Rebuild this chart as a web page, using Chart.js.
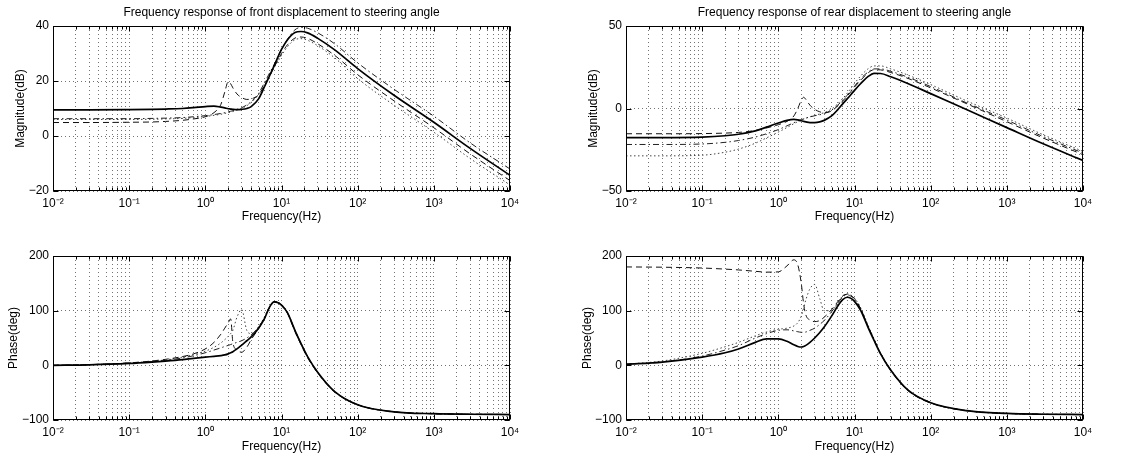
<!DOCTYPE html>
<html>
<head>
<meta charset="utf-8">
<script src="https://cdn.jsdelivr.net/npm/chart.js@4.4.1/dist/chart.umd.min.js"></script>
<style>
  body { margin: 0; background: #fff; width: 1142px; height: 462px; position: relative; overflow: hidden; }
  canvas { position: absolute; }
</style>
</head>
<body>
<canvas id="magFront"></canvas>
<canvas id="magRear"></canvas>
<canvas id="phaseFront"></canvas>
<canvas id="phaseRear"></canvas>
<script>
// --- Data ---
const FREQ = [0.01, 0.03, 0.1, 0.2, 0.3, 0.5, 0.7, 1, 1.3, 1.6, 1.8, 2, 2.15, 2.3, 2.6, 3, 3.5, 4, 5, 6, 7, 8, 9, 10, 12, 15, 18, 22, 30, 50, 100, 300, 1000, 3000, 10000];

const X_DECADES = [0.01, 0.1, 1, 10, 100, 1000, 10000];
const X_TICK_LABELS = ['10⁻²', '10⁻¹', '10⁰', '10¹', '10²', '10³', '10⁴'];
const Y_TICKS_MAG_FRONT = [-20, 0, 20, 40];
const Y_TICKS_MAG_REAR = [-50, 0, 50];
const Y_TICKS_PHASE = [-100, 0, 100, 200];

// front magnitude (dB)
const MAG_FRONT_SOLID = [9.5, 9.5, 9.6, 9.7, 9.8, 10.0, 10.3, 10.7, 10.9, 10.5, 10.2, 9.9, 9.8, 9.7, 9.6, 9.7, 10.0, 10.7, 13.5, 18.0, 22.0, 25.5, 28.8, 31.5, 35.0, 37.6, 38.0, 37.5, 35.5, 31.3, 24.5, 14.8, 5.0, -4.5, -14.3];
const MAG_FRONT_DASH = [4.9, 4.9, 5.0, 5.1, 5.3, 5.7, 6.2, 7.0, 8.5, 11.5, 16.0, 19.8, 19.0, 17.5, 15.3, 14.0, 13.3, 13.5, 15.0, 18.5, 22.0, 25.0, 27.7, 30.0, 33.2, 35.6, 36.0, 35.5, 33.5, 29.3, 22.3, 12.8, 3.0, -6.5, -16.2];
const MAG_FRONT_DASHDOT = [6.3, 6.3, 6.3, 6.4, 6.5, 6.7, 7.0, 7.4, 7.8, 8.2, 8.5, 8.8, 9.0, 9.2, 9.7, 10.3, 11.3, 12.5, 15.5, 19.5, 23.0, 26.0, 29.0, 31.5, 35.2, 38.6, 39.5, 39.2, 37.5, 33.5, 26.6, 17.0, 7.2, -2.5, -12.0];
const MAG_FRONT_DOT = [6.0, 6.0, 6.0, 6.1, 6.2, 6.4, 6.7, 7.1, 7.5, 7.9, 8.2, 8.5, 8.7, 8.9, 9.4, 10.0, 11.0, 12.2, 15.0, 18.5, 21.8, 24.8, 27.2, 29.3, 32.5, 35.0, 35.4, 34.8, 32.8, 28.4, 20.9, 11.2, 1.4, -8.2, -17.8];

// rear magnitude (dB)
const MAG_REAR_SOLID = [-17.6, -17.6, -17.3, -16.5, -15.6, -13.6, -11.3, -8.8, -7.2, -6.6, -6.9, -7.4, -7.8, -8.1, -8.5, -8.5, -8.1, -7.2, -4.5, -0.8, 2.8, 5.8, 8.5, 11.0, 15.0, 19.3, 21.3, 21.2, 19.2, 15.2, 9.0, -0.8, -11.6, -21.4, -31.5];
const MAG_REAR_DASH = [-15.3, -15.3, -15.2, -14.9, -14.5, -13.3, -11.8, -9.8, -7.8, -4.5, 0.0, 5.0, 6.8, 5.5, 2.0, -0.5, -2.0, -2.6, -1.5, 1.5, 4.5, 7.5, 10.3, 13.0, 17.0, 21.5, 23.5, 23.4, 21.8, 18.3, 12.5, 2.8, -8.0, -17.9, -28.0];
const MAG_REAR_DASHDOT = [-21.8, -21.8, -21.5, -20.5, -19.4, -17.3, -15.3, -12.8, -10.5, -8.6, -7.6, -6.8, -6.3, -5.8, -5.1, -4.4, -3.8, -3.0, -1.0, 2.0, 5.0, 8.0, 10.8, 13.5, 18.0, 22.0, 24.0, 24.0, 22.5, 19.0, 13.3, 3.3, -7.0, -17.0, -27.0];
const MAG_REAR_DOT = [-28.7, -28.7, -28.3, -26.5, -24.6, -21.0, -17.8, -14.3, -11.5, -9.2, -8.0, -7.0, -6.4, -5.9, -5.0, -4.2, -3.3, -2.5, -0.3, 2.8, 6.0, 9.2, 12.3, 15.2, 19.6, 24.0, 25.8, 25.8, 24.0, 20.3, 14.5, 4.5, -5.8, -15.9, -26.0];

// front phase (deg)
const PHASE_FRONT_SOLID = [0, 1.0, 3.5, 6.0, 7.8, 10.5, 12.8, 15.0, 16.5, 17.8, 19.0, 21.0, 23.0, 25.0, 30.0, 37.0, 45.0, 52.0, 68.0, 86.0, 107.0, 116.0, 114.5, 110.0, 96.0, 64.0, 40.0, 16.0, -13.0, -48.0, -72.0, -85.0, -88.5, -89.5, -90.0];
const PHASE_FRONT_DASH = [0, 1.3, 4.5, 8.0, 11.0, 16.0, 21.0, 30.0, 42.0, 57.0, 68.0, 78.0, 85.0, 42.0, 28.0, 24.0, 33.0, 47.0, 67.0, 86.0, 107.0, 116.5, 115.0, 110.5, 95.0, 62.0, 38.0, 14.0, -14.5, -49.0, -72.5, -85.0, -88.5, -89.5, -90.0];
const PHASE_FRONT_DASHDOT = [0, 1.2, 4.0, 7.0, 9.0, 13.5, 17.5, 23.0, 28.0, 32.0, 34.5, 36.5, 38.0, 39.5, 42.0, 45.0, 50.0, 56.0, 70.0, 88.0, 107.0, 116.0, 114.8, 111.0, 96.0, 64.0, 40.0, 15.0, -14.0, -48.5, -72.0, -85.0, -88.5, -89.5, -90.0];
const PHASE_FRONT_DOT = [0, 1.2, 4.2, 7.5, 10.0, 15.0, 19.5, 26.0, 33.0, 41.0, 47.0, 53.0, 58.0, 64.0, 88.0, 102.0, 64.0, 58.0, 71.0, 89.0, 108.0, 116.5, 115.2, 111.5, 97.0, 65.0, 41.0, 16.5, -12.5, -47.5, -71.5, -85.0, -88.5, -89.5, -90.0];

// rear phase (deg)
const PHASE_REAR_SOLID = [2, 6, 15, 23, 30, 42, 48.5, 48.5, 44, 37.5, 34.5, 33.5, 34.5, 36.5, 42, 50, 60, 70, 90, 108, 120, 124.5, 122.5, 117, 101, 70, 46, 21, -9, -45, -68.5, -83, -88, -89.5, -90];
const PHASE_REAR_DASH = [180, 179.5, 178, 176, 174.5, 172, 170.5, 171, 182, 193, 184, 150, 112, 92, 83, 80, 82, 88, 102, 116, 127, 130, 127.5, 122, 104, 72, 47, 21, -10, -46, -69, -83, -88, -89.5, -90];
const PHASE_REAR_DASHDOT = [2, 6, 17, 28, 36, 50, 58, 64, 65, 63, 61.5, 60.5, 60.5, 61, 64, 68, 75, 82, 98, 113, 125, 129, 126.5, 121, 104, 72, 48, 22, -9, -45, -68.5, -83, -88, -89.5, -90];
const PHASE_REAR_DOT = [2, 8, 22, 34, 42, 54, 61, 66, 68, 72, 78, 90, 105, 120, 140, 148, 122, 100, 100, 114, 127, 131, 128.5, 123, 106, 74, 49, 23, -8, -44, -68, -83, -88, -89.5, -90];

// --- Styles: solid, dashed, dash-dot, dotted ---
const LINE_STYLES = [
  { dash: [], width: 1.7, color: '#000' },
  { dash: [6, 4], width: 1, color: '#111' },
  { dash: [6, 3, 1.5, 3], width: 1, color: '#222' },
  { dash: [1.5, 2.5], width: 1, color: '#444' }
];

Chart.defaults.font.family = '"Liberation Sans", Arial, Helvetica, sans-serif';
Chart.defaults.font.size = 12;
Chart.defaults.color = '#000';

// box + inward tick marks like the original axes
const framePlugin = {
  id: 'frame',
  afterDraw(chart) {
    const { ctx, chartArea: a, scales: { x, y } } = chart;
    const L = Math.round(a.left) + 0.5, R = Math.round(a.right) - 0.5;
    const T = Math.round(a.top) + 0.5, B = Math.round(a.bottom) - 0.5;
    ctx.save();
    ctx.strokeStyle = '#000';
    ctx.lineWidth = 1;
    ctx.strokeRect(L, T, R - L, B - T);
    ctx.beginPath();
    x.ticks.forEach(t => {
      const px = Math.round(x.getPixelForValue(t.value)) + 0.5;
      const len = X_DECADES.includes(t.value) ? 5 : 3;
      ctx.moveTo(px, B); ctx.lineTo(px, B - len);
      ctx.moveTo(px, T); ctx.lineTo(px, T + len);
    });
    y.ticks.forEach(t => {
      const py = Math.round(y.getPixelForValue(t.value)) + 0.5;
      ctx.moveTo(L, py); ctx.lineTo(L + 5, py);
      ctx.moveTo(R, py); ctx.lineTo(R - 5, py);
    });
    ctx.stroke();
    ctx.restore();
  }
};

function logTicks() {
  const out = [];
  X_DECADES.forEach((d, i) => {
    if (i === X_DECADES.length - 1) { out.push({ value: d }); return; }
    for (let m = 1; m <= 9; m++) out.push({ value: +(d * m).toPrecision(6) });
  });
  return out;
}

function makeChart(id, p) {
  const canvas = document.getElementById(id);
  canvas.width = p.w; canvas.height = 231;
  canvas.style.left = p.left + 'px';
  canvas.style.top = p.top + 'px';
  canvas.style.width = p.w + 'px';
  canvas.style.height = '231px';

  const datasets = p.series.map((vals, i) => ({
    data: FREQ.map((f, k) => ({ x: f, y: vals[k] })),
    borderColor: LINE_STYLES[i].color,
    borderWidth: LINE_STYLES[i].width,
    borderDash: LINE_STYLES[i].dash,
    pointRadius: 0,
    fill: false,
    cubicInterpolationMode: 'monotone'
  }));

  return new Chart(canvas, {
    type: 'line',
    data: { datasets },
    plugins: [framePlugin],
    options: {
      responsive: false,
      maintainAspectRatio: false,
      animation: false,
      events: [],
      layout: { padding: { left: 0, right: p.padRight, top: p.padTop, bottom: 0 } },
      plugins: {
        legend: { display: false },
        tooltip: { enabled: false },
        title: {
          display: !!p.title,
          text: p.title || '',
          fullSize: false,
          font: { size: 12, weight: 'normal' },
          color: '#000',
          padding: { top: 5, bottom: 6.6 }
        }
      },
      scales: {
        x: {
          type: 'logarithmic',
          min: 0.01, max: 10000,
          afterBuildTicks: s => { s.ticks = logTicks(); },
          afterFit: s => { s.height = p.xAxisH; },
          ticks: {
            autoSkip: false, maxRotation: 0, padding: 5,
            font: { size: 12 },
            callback: v => { const i = X_DECADES.indexOf(v); return i >= 0 ? X_TICK_LABELS[i] : ''; }
          },
          grid: { color: 'rgba(0,0,0,0.55)', lineWidth: 1, drawTicks: false },
          border: { display: false, dash: [1, 3] },
          title: { display: true, text: 'Frequency(Hz)', font: { size: 12 }, padding: { top: 0, bottom: p.xTitlePad } }
        },
        y: {
          min: p.yTicks[0], max: p.yTicks[p.yTicks.length - 1],
          afterBuildTicks: s => { s.ticks = p.yTicks.map(v => ({ value: v })); },
          afterFit: s => { s.width = p.yAxisW; },
          ticks: {
            padding: 4, font: { size: 12 },
            callback: v => v < 0 ? '\u2212' + Math.abs(v) : String(v)
          },
          grid: { color: 'rgba(0,0,0,0.55)', lineWidth: 1, drawTicks: false },
          border: { display: false, dash: [1, 3] },
          title: { display: true, text: p.yLabel, font: { size: 12 }, padding: { top: p.yTitlePad, bottom: 0 } }
        }
      }
    }
  });
}

makeChart('magFront', {
  left: 0, top: 0, w: 563, padRight: 53, padTop: 0, xAxisH: 40, yAxisW: 53,
  xTitlePad: 7.3, yTitlePad: 13.8,
  title: 'Frequency response of front displacement to steering angle',
  yLabel: 'Magnitude(dB)', yTicks: Y_TICKS_MAG_FRONT,
  series: [MAG_FRONT_SOLID, MAG_FRONT_DASH, MAG_FRONT_DASHDOT, MAG_FRONT_DOT]
});

makeChart('magRear', {
  left: 571, top: 0, w: 567, padRight: 55, padTop: 0, xAxisH: 40, yAxisW: 55,
  xTitlePad: 7.3, yTitlePad: 15.3,
  title: 'Frequency response of rear displacement to steering angle',
  yLabel: 'Magnitude(dB)', yTicks: Y_TICKS_MAG_REAR,
  series: [MAG_REAR_SOLID, MAG_REAR_DASH, MAG_REAR_DASHDOT, MAG_REAR_DOT]
});

makeChart('phaseFront', {
  left: 0, top: 231, w: 563, padRight: 53, padTop: 25, xAxisH: 42, yAxisW: 53,
  xTitlePad: 8.3, yTitlePad: 6.8,
  title: null,
  yLabel: 'Phase(deg)', yTicks: Y_TICKS_PHASE,
  series: [PHASE_FRONT_SOLID, PHASE_FRONT_DASH, PHASE_FRONT_DASHDOT, PHASE_FRONT_DOT]
});

makeChart('phaseRear', {
  left: 571, top: 231, w: 567, padRight: 55, padTop: 25, xAxisH: 42, yAxisW: 55,
  xTitlePad: 8.3, yTitlePad: 9.8,
  title: null,
  yLabel: 'Phase(deg)', yTicks: Y_TICKS_PHASE,
  series: [PHASE_REAR_SOLID, PHASE_REAR_DASH, PHASE_REAR_DASHDOT, PHASE_REAR_DOT]
});
</script>
</body>
</html>
